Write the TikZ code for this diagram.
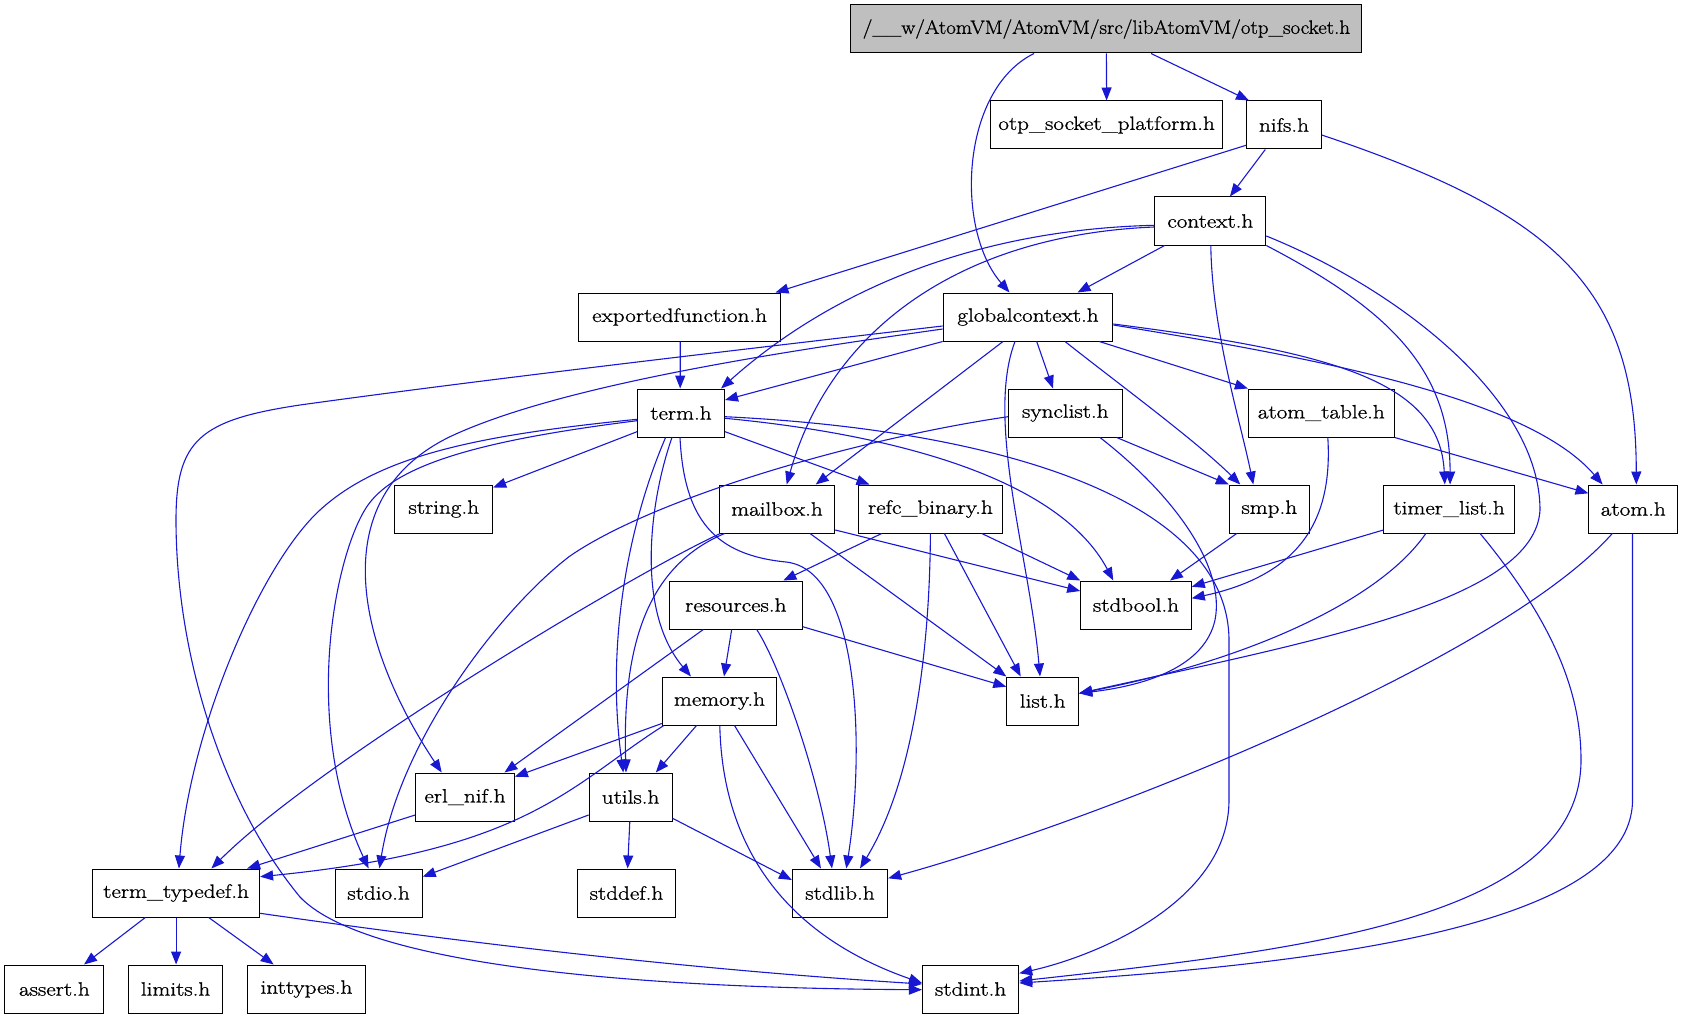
\documentclass[tikz,border=0pt]{standalone}
\usepackage{fontspec}
\setmainfont{Latin Modern Roman}[FakeStretch=1.2,FakeBold=1]
\newfontfamily\topfont{Latin Modern Roman}[FakeStretch=1.083,FakeBold=1]
\usetikzlibrary{arrows.meta}
\definecolor{edgeblue}{RGB}{24,24,210}
\definecolor{topgray}{RGB}{191,191,191}
\begin{document}
\begin{tikzpicture}[x=1pt,y=-1pt,
  box/.style={draw=black, line width=1pt, minimum height=48pt, inner sep=0pt, font=\fontsize{19.3}{23}\selectfont},
  e/.style={draw=edgeblue, line width=1.1pt, -{Triangle[length=13pt,width=10pt]}}]
\useasboundingbox (0,0) rectangle (1683,1019);

\node[box,fill=topgray,minimum width=511pt,font=\fontsize{19.3}{23}\topfont] (top) at (1106.4,29) {/\_\_w/AtomVM/AtomVM/src/libAtomVM/otp\_socket.h};
\node[box,minimum width=232pt] (osp) at (1106.6,125) {otp\_socket\_platform.h};
\node[box,minimum width=74.5pt] (nifs) at (1284,125) {nifs.h};
\node[box,minimum width=111pt] (context) at (1210.3,221) {context.h};
\node[box,minimum width=202.7pt] (expf) at (679.6,317) {exportedfunction.h};
\node[box,minimum width=169.7pt] (gctx) at (1028,317) {globalcontext.h};
\node[box,minimum width=87pt] (term) at (681,413) {term.h};
\node[box,minimum width=113.7pt] (synclist) at (1065.3,413) {synclist.h};
\node[box,minimum width=145.8pt] (atomtable) at (1321.3,413) {atom\_table.h};
\node[box,minimum width=97.7pt] (string) at (443.8,509) {string.h};
\node[box,minimum width=115.5pt] (mailbox) at (777,509) {mailbox.h};
\node[box,minimum width=144.2pt] (refc) at (930.4,509) {refc\_binary.h};
\node[box,minimum width=80pt] (smp) at (1269.3,509) {smp.h};
\node[box,minimum width=130.5pt] (timer) at (1449.1,509) {timer\_list.h};
\node[box,minimum width=88.7pt] (atom) at (1633.3,509) {atom.h};
\node[box,minimum width=132.8pt] (resources) at (735.8,605) {resources.h};
\node[box,minimum width=110.5pt] (stdbool) at (1136,605) {stdbool.h};
\node[box,minimum width=114.4pt] (memory) at (719.5,701) {memory.h};
\node[box,minimum width=71.8pt] (list) at (1042.7,701) {list.h};
\node[box,minimum width=98.7pt] (erlnif) at (465,797) {erl\_nif.h};
\node[box,minimum width=83pt] (utils) at (630.6,797) {utils.h};
\node[box,minimum width=167pt] (termtd) at (176.1,893) {term\_typedef.h};
\node[box,minimum width=87.2pt] (stdio) at (378.6,893) {stdio.h};
\node[box,minimum width=98.7pt] (stddef) at (626.5,893) {stddef.h};
\node[box,minimum width=95.3pt] (stdlib) at (840,893) {stdlib.h};
\node[box,minimum width=99pt] (assert) at (54.4,989) {assert.h};
\node[box,minimum width=94.3pt] (limits) at (175.6,989) {limits.h};
\node[box,minimum width=118.7pt] (inttypes) at (306.5,989) {inttypes.h};
\node[box,minimum width=96.3pt] (stdint) at (970.6,989) {stdint.h};

% top
\draw[e] ([xshift=-72.4pt]top.south) .. controls (960,90) and (955,230) .. ([xshift=-18.5pt]gctx.north);
\draw[e] (top.south) -- (osp.north);
\draw[e] ([xshift=44.6pt]top.south) -- ([xshift=-35pt]nifs.north);
% nifs
\draw[e] ([yshift=4.3pt]nifs.south west) -- ([xshift=-6pt]expf.north east);
\draw[e] ([xshift=-18.7pt]nifs.south) -- ([xshift=19.6pt]context.north);
\draw[e] ([yshift=-10pt]nifs.east) .. controls (1560,215) and (1636,290) .. ([xshift=3pt]atom.north);
% context
\draw[e] ([xshift=-45.7pt]context.south) -- ([xshift=49.5pt]gctx.north);
\draw[e] ([yshift=-4.3pt]context.west) .. controls (960,230) and (820,300) .. ([xshift=-4pt]term.north east);
\draw[e] ([yshift=-6pt]context.west) .. controls (960,235) and (830,330) .. ([xshift=9.7pt]mailbox.north);
\draw[e] ([xshift=0.5pt]context.south) .. controls (1212,330) and (1240,420) .. ([xshift=-16pt]smp.north);
\draw[e] (context.south east) .. controls (1390,310) and (1450,370) .. ([xshift=1pt]timer.north);
\draw[e] ([yshift=-15pt]context.east) .. controls (1400,290) and (1540,400) .. (1540,510) .. controls (1535,600) and (1320,640) .. ([yshift=7.7pt]list.east);
% exportedfunction
\draw[e] ([xshift=0.6pt]expf.south) -- ([xshift=-0.8pt]term.north);
% globalcontext
\draw[e] (gctx.south west) -- ([yshift=13pt]term.east);
\draw[e] ([yshift=-9pt]gctx.west) .. controls (720,352) and (480,380) .. (300,405) .. controls (200,420) and (176,440) .. (176,520) .. controls (176,650) and (220,800) .. (300,897) .. controls (360,960) and (600,988) .. ([yshift=-0.7pt]stdint.west);
\draw[e] ([yshift=-12pt]gctx.west) .. controls (780,352) and (560,385) .. (450,436.7) .. controls (320,500) and (360,650) .. ([xshift=-23.3pt]erlnif.north);
\draw[e] ([xshift=-25pt]gctx.south) -- ([xshift=38.7pt]mailbox.north);
\draw[e] ([xshift=8.7pt]gctx.south) -- ([xshift=-12.3pt]synclist.north);
\draw[e] ([xshift=37pt]gctx.south) .. controls (1120,385) and (1195,440) .. ([xshift=-29pt]smp.north);
\draw[e] ([xshift=71.3pt]gctx.south) -- (atomtable.north west);
\draw[e] ([yshift=-7pt]gctx.east) .. controls (1330,352) and (1440,380) .. ([xshift=-4.3pt]timer.north);
\draw[e] ([yshift=-8pt]gctx.east) .. controls (1330,360) and (1530,400) .. ([xshift=-30.7pt]atom.north);
\draw[e] ([xshift=-13pt]gctx.south) .. controls (985,420) and (1030,560) .. ([xshift=-2.7pt]list.north);
% term
\draw[e] ([yshift=-18.7pt]term.west) -- ([yshift=-3pt]string.north east);
\draw[e] ([yshift=-6.3pt]term.west) .. controls (480,435) and (380,455) .. (320,510) .. controls (260,565) and (190,730) .. ([xshift=2.8pt]termtd.north);
\draw[e] ([yshift=-7.7pt]term.west) .. controls (500,438) and (400,460) .. (368,505) .. controls (336,550) and (300,720) .. ([xshift=-10pt]stdio.north);
\draw[e] ([yshift=-18.7pt]term.east) -- ([xshift=11.7pt]refc.north west);
\draw[e] ([xshift=-9pt]term.south) .. controls (650,500) and (635,610) .. ([xshift=-28.5pt]memory.north);
\draw[e] ([xshift=-15.4pt]term.south) .. controls (630,520) and (605,640) .. ([xshift=-7.3pt]utils.north);
\draw[e] ([xshift=-1pt]term.south) .. controls (684,520) and (715,555) .. (786,562) .. controls (860,570) and (865,750) .. ([xshift=6.3pt]stdlib.north);
\draw[e] ([yshift=-5.3pt]term.east) .. controls (900,435) and (1060,480) .. ([xshift=-22.7pt]stdbool.north);
\draw[e] ([yshift=-3.7pt]term.east) .. controls (1000,430) and (1228,500) .. (1229,640) -- (1229,800) .. controls (1229,900) and (1100,955) .. ([yshift=15.7pt]stdint.east);
% synclist
\draw[e] ([xshift=51.4pt]synclist.south) -- (smp.north west);
\draw[e] ([xshift=34.7pt]synclist.south) .. controls (1180,500) and (1225,570) .. (1215,620) .. controls (1205,665) and (1150,685) .. ([yshift=7.7pt]list.east);
\draw[e] ([yshift=-3.7pt]synclist.west) .. controls (850,440) and (650,500) .. (569,556.7) .. controls (500,610) and (400,740) .. ([xshift=0.8pt]stdio.north);
% atom_table
\draw[e] ([xshift=6.5pt]atomtable.south) .. controls (1333,520) and (1300,575) .. ([yshift=6.7pt]stdbool.east);
\draw[e] (atomtable.south east) -- ([yshift=15.7pt]atom.west);
% mailbox
\draw[e] ([xshift=1.6pt]mailbox.south west) .. controls (640,570) and (320,760) .. ([xshift=35.3pt]termtd.north);
\draw[e] ([xshift=5.8pt]mailbox.south west) .. controls (650,565) and (622,640) .. ([xshift=-4.6pt]utils.north);
\draw[e] ([xshift=33pt]mailbox.south) -- (list.north west);
\draw[e] ([yshift=-21pt]mailbox.east) -- ([yshift=14pt]stdbool.west);
% refc_binary
\draw[e] ([xshift=-48.7pt]refc.south) -- ([xshift=47.5pt]resources.north);
\draw[e] ([xshift=51.4pt]refc.south) -- (stdbool.north west);
\draw[e] ([xshift=14pt]refc.south) -- ([xshift=-22pt]list.north);
\draw[e] (refc.south) .. controls (930,620) and (920,770) .. ([xshift=20pt]stdlib.north);
% smp
\draw[e] ([xshift=-32.6pt]smp.south) -- ([xshift=34pt]stdbool.north);
% timer_list
\draw[e] ([yshift=-21pt]timer.west) -- ([yshift=18.3pt]stdbool.east);
\draw[e] ([xshift=-23.3pt]timer.south) .. controls (1380,600) and (1250,660) .. ([yshift=7.7pt]list.east);
\draw[e] ([xshift=31pt]timer.south) .. controls (1560,630) and (1581,700) .. (1581,760) .. controls (1581,920) and (1300,950) .. ([yshift=8pt]stdint.east);
% atom
\draw[e] ([xshift=-21pt]atom.south) .. controls (1500,660) and (1100,820) .. ([yshift=14.7pt]stdlib.east);
\draw[e] ([xshift=-0.8pt]atom.south) -- (1632.5,800) .. controls (1632.5,930) and (1300,965) .. ([yshift=6pt]stdint.east);
% resources
\draw[e] ([xshift=-32.5pt]resources.south) -- ([xshift=-10.4pt]erlnif.north east);
\draw[e] ([xshift=-4.1pt]resources.south) -- ([xshift=4.5pt]memory.north);
\draw[e] ([xshift=20.9pt]resources.south) .. controls (780,665) and (820,780) .. ([xshift=-8pt]stdlib.north);
\draw[e] ([yshift=-21.7pt]resources.east) -- ([yshift=14.3pt]list.west);
% memory
\draw[e] ([yshift=2pt]memory.south west) -- ([yshift=20.3pt]erlnif.east);
\draw[e] ([xshift=-23pt]memory.south) -- ([xshift=25.2pt]utils.north);
\draw[e] ([xshift=2pt]memory.south west) .. controls (570,785) and (530,850) .. ([yshift=16.3pt]termtd.east);
\draw[e] ([xshift=15pt]memory.south) -- ([xshift=-19pt]stdlib.north);
\draw[e] ([xshift=0.3pt]memory.south) .. controls (722,830) and (770,930) .. ([yshift=6pt]stdint.west);
% utils
\draw[e] ([yshift=-18pt]utils.west) -- ([yshift=16.3pt]stdio.east);
\draw[e] ([xshift=-0.8pt]utils.south) -- ([xshift=1.1pt]stddef.north);
\draw[e] ([yshift=-21.3pt]utils.east) -- ([yshift=13pt]stdlib.west);
% erl_nif
\draw[e] ([yshift=-18pt]erlnif.west) -- ([xshift=-13pt]termtd.north east);
% term_typedef
\draw[e] ([xshift=-30.8pt]termtd.south) -- ([xshift=29.6pt]assert.north);
\draw[e] (termtd.south) -- ([xshift=0.5pt]limits.north);
\draw[e] ([xshift=32.6pt]termtd.south) -- ([xshift=-32.8pt]inttypes.north);
\draw[e] ([yshift=-20.3pt]termtd.east) .. controls (480,945) and (700,970) .. ([yshift=5pt]stdint.west);
\end{tikzpicture}
\end{document}
